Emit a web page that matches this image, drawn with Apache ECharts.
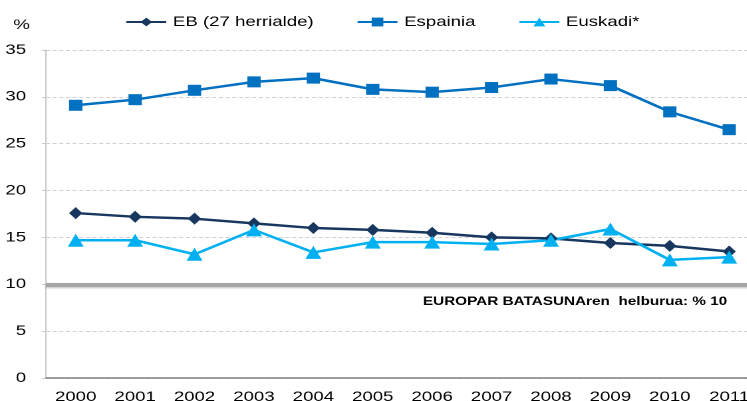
<!DOCTYPE html>
<html>
<head>
<meta charset="utf-8">
<script src="https://cdn.jsdelivr.net/npm/echarts@6/dist/echarts.min.js"></script>
<style>
  html, body { margin: 0; padding: 0; background: #fff; overflow: hidden; }
  /* the source picture is stretched sideways, so draw narrow and widen it */
  #chart { width: 562px; height: 401px; transform: scaleX(1.33); transform-origin: 0 0; }
</style>
</head>
<body>
<div id="chart"></div>
<script>
const years = ['2000', '2001', '2002', '2003', '2004', '2005', '2006', '2007', '2008', '2009', '2010', '2011']
const eb = [17.6, 17.2, 17.0, 16.5, 16.0, 15.8, 15.5, 15.0, 14.9, 14.4, 14.1, 13.5]
const espainia = [29.1, 29.7, 30.7, 31.6, 32.0, 30.8, 30.5, 31.0, 31.9, 31.2, 28.4, 26.5]
const euskadi = [14.7, 14.7, 13.2, 15.8, 13.4, 14.5, 14.5, 14.3, 14.7, 15.9, 12.6, 12.9]
const target = 10

const font = 'Liberation Sans, Arial, sans-serif'
const chart = echarts.init(document.getElementById('chart'), null, { devicePixelRatio: 2 })

chart.setOption({
  animation: false,
  textStyle: { fontFamily: font },
  legend: {
    left: 89,
    top: 10,
    itemWidth: 30,
    itemHeight: 11,
    itemGap: 32,
    textStyle: { fontSize: 14, color: '#000', fontFamily: font }
  },
  grid: { left: 34.6, top: 50, width: 536, bottom: 23, outerBoundsMode: 'none' },
  xAxis: {
    type: 'category',
    data: years,
    axisLine: { lineStyle: { color: '#7f7f7f', width: 1.5 } },
    axisTick: { lineStyle: { color: '#7f7f7f' }, length: 5 },
    axisLabel: { color: '#000', fontSize: 14, margin: 12 }
  },
  yAxis: {
    type: 'value',
    min: 0, max: 35, interval: 5,
    axisLine: { show: true, lineStyle: { color: '#c8c8c8' } },
    axisTick: { show: true, length: 3, lineStyle: { color: '#c8c8c8' } },
    axisLabel: { color: '#000', fontSize: 14, margin: 15 },
    splitLine: { lineStyle: { color: '#d0d0d0', type: [3, 2] } }
  },
  graphic: [
    { type: 'text', left: 10, top: 18, style: { text: '%', fontSize: 14, fill: '#000', fontFamily: font } },
    { type: 'text', left: 318, top: 296, style: { text: 'EUROPAR BATASUNAren  helburua: % 10', fontSize: 11.5, fontWeight: 'bold', fill: '#000', fontFamily: font } }
  ],
  series: [
    {
      name: 'EB (27 herrialde)', type: 'line', data: eb,
      symbol: 'diamond', symbolSize: [10, 12],
      itemStyle: { color: '#17375e' },
      lineStyle: { width: 2.5, color: '#17375e' },
      markLine: {
        silent: true, symbol: 'none', label: { show: false },
        lineStyle: { color: '#a6a6a6', width: 4, type: 'solid', shadowColor: 'rgba(0,0,0,0.25)', shadowBlur: 2, shadowOffsetY: 1 },
        data: [{ yAxis: target }]
      }
    },
    {
      name: 'Espainia', type: 'line', data: espainia,
      symbol: 'rect', symbolSize: [10, 11],
      itemStyle: { color: '#0070c0' },
      lineStyle: { width: 2.5, color: '#0070c0' }
    },
    {
      name: 'Euskadi*', type: 'line', data: euskadi,
      symbol: 'triangle', symbolSize: [12, 13],
      itemStyle: { color: '#00b0f0' },
      lineStyle: { width: 2.5, color: '#00b0f0' }
    }
  ]
})
</script>
</body>
</html>
